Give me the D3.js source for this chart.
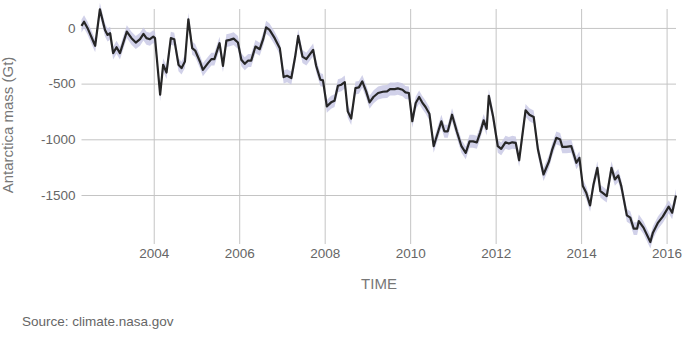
<!DOCTYPE html>
<html>
<head>
<meta charset="utf-8">
<script src="https://cdn.jsdelivr.net/npm/d3@7/dist/d3.min.js"></script>
<style>
  html, body { margin: 0; padding: 0; background: #fff; }
  svg { display: block; font-family: "Liberation Sans", Arial, sans-serif; }
</style>
</head>
<body>
<svg id="chart" width="685" height="348"></svg>
<script>
// GRACE Antarctic ice mass anomaly (Gt), by decimal year
const years = [
  2002.31, 2002.37, 2002.45, 2002.63, 2002.74, 2002.86, 2002.92, 2002.98, 2003.05, 2003.13,
  2003.21, 2003.37, 2003.48, 2003.58, 2003.68, 2003.76, 2003.83, 2003.91, 2003.99, 2004.03,
  2004.15, 2004.22, 2004.30, 2004.40, 2004.48, 2004.58, 2004.65, 2004.73, 2004.81, 2004.90,
  2004.97, 2005.08, 2005.15, 2005.27, 2005.35, 2005.42, 2005.54, 2005.62, 2005.70, 2005.78,
  2005.87, 2005.97, 2006.05, 2006.13, 2006.21, 2006.28, 2006.38, 2006.48, 2006.56, 2006.63,
  2006.71, 2006.83, 2006.95, 2007.04, 2007.12, 2007.22, 2007.31, 2007.38, 2007.48, 2007.57,
  2007.73, 2007.80, 2007.90, 2007.96, 2008.05, 2008.15, 2008.23, 2008.31, 2008.39, 2008.47,
  2008.54, 2008.62, 2008.72, 2008.80, 2008.88, 2008.97, 2009.05, 2009.14, 2009.25, 2009.36,
  2009.46, 2009.53, 2009.64, 2009.71, 2009.82, 2009.89, 2009.97, 2010.05, 2010.13, 2010.21,
  2010.28, 2010.36, 2010.45, 2010.55, 2010.73, 2010.80, 2010.88, 2010.98, 2011.09, 2011.20,
  2011.30, 2011.39, 2011.47, 2011.56, 2011.64, 2011.72, 2011.79, 2011.84, 2011.94, 2012.05,
  2012.13, 2012.23, 2012.31, 2012.39, 2012.47, 2012.55, 2012.70, 2012.79, 2012.89, 2012.99,
  2013.12, 2013.25, 2013.32, 2013.42, 2013.51, 2013.56, 2013.65, 2013.77, 2013.89, 2013.96,
  2014.04, 2014.12, 2014.21, 2014.29, 2014.38, 2014.45, 2014.52, 2014.60, 2014.71, 2014.79,
  2014.87, 2014.94, 2015.07, 2015.15, 2015.23, 2015.31, 2015.35, 2015.46, 2015.62, 2015.68,
  2015.80, 2015.91, 2016.05, 2016.13, 2016.22
];
const massGt = [
    18,   56,    0, -160,  167,  -18,  -63,  -48, -226, -173,
  -226,  -33,  -92, -131, -101,  -54,  -92, -101,  -78,  -92,
  -600, -331, -400,  -92, -101, -331, -361, -301,   78, -182,
  -203, -301, -376, -316, -280, -280, -137, -340, -114, -107,
   -96, -131, -286, -322, -293, -293, -167, -191, -101,    6,
   -18,  -92, -182, -441, -430, -450, -257,  -72, -257, -280,
  -197, -340, -465, -471, -704, -668, -653, -519, -510, -486,
  -749, -814, -540, -534, -480, -570, -668, -620, -584, -573,
  -570, -549, -549, -543, -555, -579, -584, -838, -674, -620,
  -668, -710, -770, -1062, -838, -928, -928, -779, -928, -1062,
  -1122, -1018, -1018, -1027, -937, -830, -907, -609, -794, -1062,
  -1086, -1027, -1038, -1027, -1032, -1188, -740, -779, -799, -1092,
  -1316, -1197, -1098, -987, -1002, -1068, -1068, -1062, -1211, -1166,
  -1420, -1480, -1593, -1405, -1256, -1465, -1486, -1510, -1256, -1360,
  -1325, -1420, -1683, -1703, -1802, -1802, -1734, -1793, -1922, -1838,
  -1748, -1694, -1605, -1659, -1504
];
// one-sigma uncertainty of each estimate (Gt)
const uncertaintyGt = 58;

const xTicks = [2004, 2006, 2008, 2010, 2012, 2014, 2016];
const yTicks = [0, -500, -1000, -1500];

const data = years.map((t, i) => ({ t, v: massGt[i] }));

const svg = d3.select("#chart");
const plot = { left: 81.5, right: 676, top: 9, bottom: 244 };

const x = d3.scaleLinear().domain([2002.31, 2016.22]).range([plot.left, plot.right]);
const y = d3.scaleLinear().domain([-1940, 170]).range([plot.bottom, plot.top]);

// grid + tick labels (plain hyphen for negatives)
const plain = d => String(d);

const xAxis = svg.append("g")
  .attr("transform", `translate(0,${plot.bottom})`)
  .call(d3.axisBottom(x).tickValues(xTicks).tickFormat(plain)
    .tickSizeInner(-(plot.bottom - plot.top)).tickSizeOuter(0).tickPadding(0));
xAxis.select(".domain").remove();
xAxis.selectAll(".tick line").attr("stroke", "#c4c4c4").attr("stroke-width", 1);
xAxis.selectAll(".tick text")
  .attr("y", 13.5).attr("dy", null)
  .attr("fill", "#666").attr("font-size", 13.5);

const yAxis = svg.append("g")
  .attr("transform", `translate(${plot.left},0)`)
  .call(d3.axisLeft(y).tickValues(yTicks).tickFormat(plain)
    .tickSizeInner(-(plot.right - plot.left)).tickSizeOuter(0).tickPadding(6));
yAxis.select(".domain").remove();
yAxis.selectAll(".tick line").attr("stroke", "#c4c4c4").attr("stroke-width", 1);
yAxis.selectAll(".tick text")
  .attr("fill", "#666").attr("font-size", 13.5);

// uncertainty band
const band = d3.area()
  .x(d => x(d.t))
  .y0(d => y(d.v - uncertaintyGt))
  .y1(d => y(d.v + uncertaintyGt));
svg.append("path").datum(data)
  .attr("d", band)
  .attr("fill", "#c6c6e4")
  .attr("opacity", 0.8);

// mass line
const line = d3.line().x(d => x(d.t)).y(d => y(d.v));
svg.append("path").datum(data)
  .attr("d", line)
  .attr("fill", "none")
  .attr("stroke", "#262626")
  .attr("stroke-width", 2.2)
  .attr("stroke-linejoin", "round");

// axis titles
svg.append("text")
  .attr("transform", "translate(13,125) rotate(-90)")
  .attr("text-anchor", "middle")
  .attr("fill", "#777")
  .attr("font-size", 15)
  .text("Antarctica mass (Gt)");

svg.append("text")
  .attr("x", 379).attr("y", 289)
  .attr("text-anchor", "middle")
  .attr("fill", "#777")
  .attr("font-size", 15)
  .text("TIME");

svg.append("text")
  .attr("x", 22).attr("y", 326)
  .attr("fill", "#666")
  .attr("font-size", 13.5)
  .text("Source: climate.nasa.gov");
</script>
</body>
</html>
